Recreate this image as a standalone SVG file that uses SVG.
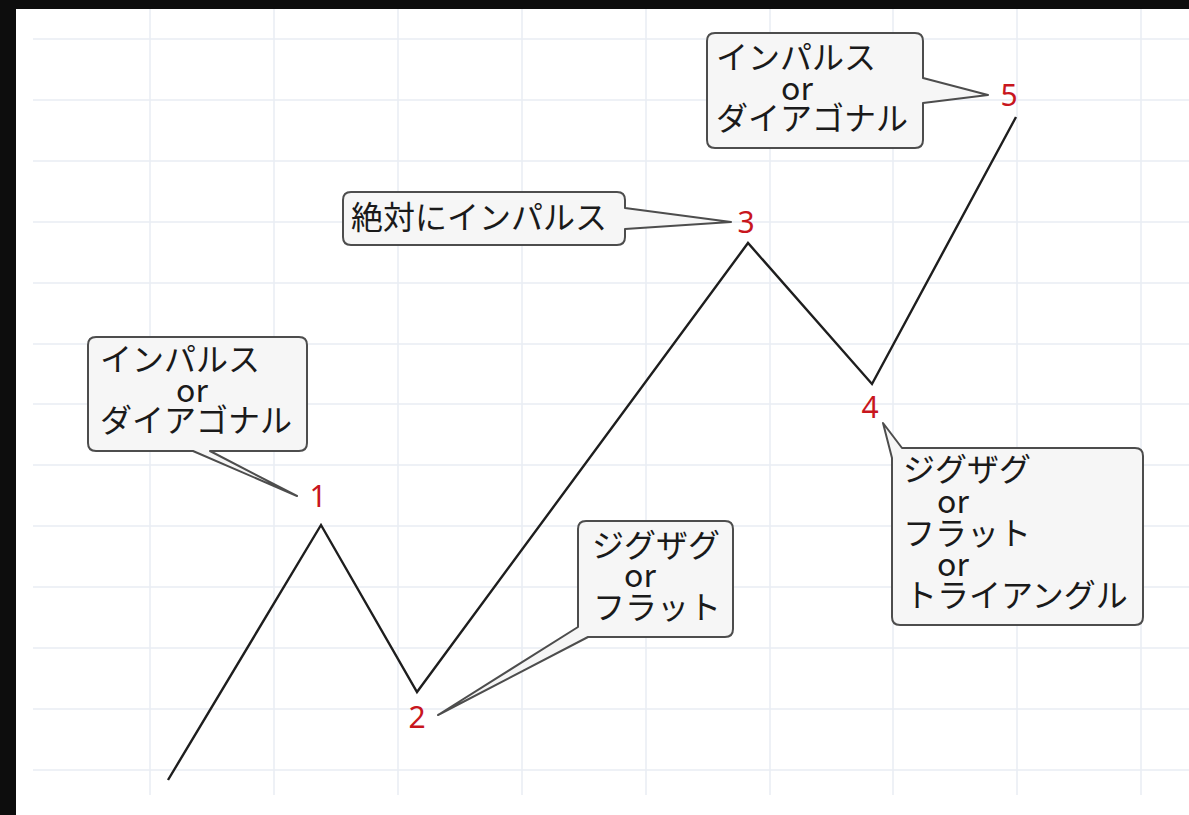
<svg xmlns="http://www.w3.org/2000/svg" width="1189" height="815" viewBox="0 0 1189 815">
<style>
.grid line{stroke:#e9edf3;stroke-width:1.5}
.wave{fill:none;stroke:#1e1e1e;stroke-width:2.4;stroke-linejoin:miter}
.callout{fill:#f6f6f6;stroke:#4d4d4d;stroke-width:2;stroke-linejoin:round}
.jp{font-family:"Noto Sans CJK JP","Noto Sans",sans-serif;font-size:32px;fill:#1a1a1a}
.num{font-family:"Noto Sans","Noto Sans CJK JP",sans-serif;font-size:30px;fill:#c8161d;text-anchor:middle}
</style>
<rect x="0" y="0" width="1189" height="815" fill="#0d0d0d"/>
<rect x="16" y="9" width="1173" height="806" fill="#ffffff"/>
<g class="grid">
<line x1="150" y1="9" x2="150" y2="795"/>
<line x1="274" y1="9" x2="274" y2="795"/>
<line x1="398" y1="9" x2="398" y2="795"/>
<line x1="522" y1="9" x2="522" y2="795"/>
<line x1="646" y1="9" x2="646" y2="795"/>
<line x1="770" y1="9" x2="770" y2="795"/>
<line x1="893" y1="9" x2="893" y2="795"/>
<line x1="1017" y1="9" x2="1017" y2="795"/>
<line x1="1141" y1="9" x2="1141" y2="795"/>
<line x1="33" y1="39" x2="1189" y2="39"/>
<line x1="33" y1="100" x2="1189" y2="100"/>
<line x1="33" y1="161" x2="1189" y2="161"/>
<line x1="33" y1="222" x2="1189" y2="222"/>
<line x1="33" y1="283" x2="1189" y2="283"/>
<line x1="33" y1="344" x2="1189" y2="344"/>
<line x1="33" y1="404" x2="1189" y2="404"/>
<line x1="33" y1="465" x2="1189" y2="465"/>
<line x1="33" y1="526" x2="1189" y2="526"/>
<line x1="33" y1="587" x2="1189" y2="587"/>
<line x1="33" y1="648" x2="1189" y2="648"/>
<line x1="33" y1="709" x2="1189" y2="709"/>
<line x1="33" y1="770" x2="1189" y2="770"/>
</g>
<g id="connectors">
<polyline class="wave" points="168,780 321,525 417,692 748,243 872,384 1016,117"/>
</g>
<g id="wave1">
<path class="callout" d="M96,337 H299 Q307,337 307,345 V443 Q307,451 299,451 H210 L297,496 L193,451 H96 Q88,451 88,443 V345 Q88,337 96,337 Z"/>
<text class="jp" x="100" y="371">インパルス</text>
<text class="jp" x="176" y="402">or</text>
<text class="jp" x="100" y="432">ダイアゴナル</text>
<text class="num" x="318" y="507">1</text>
</g>
<g id="wave2">
<path class="callout" d="M586,521 H725 Q733,521 733,529 V629 Q733,637 725,637 H588 L438,715 L578,627 V529 Q578,521 586,521 Z"/>
<text class="jp" x="592" y="557">ジグザグ</text>
<text class="jp" x="624" y="587">or</text>
<text class="jp" x="593" y="619">フラット</text>
<text class="num" x="417" y="728">2</text>
</g>
<g id="wave3">
<path class="callout" d="M351,192 H617 Q625,192 625,200 V208 L731,222 L625,229 V237 Q625,245 617,245 H351 Q343,245 343,237 V200 Q343,192 351,192 Z"/>
<text class="jp" x="351" y="229">絶対にインパルス</text>
<text class="num" x="746" y="233">3</text>
</g>
<g id="wave4">
<path class="callout" d="M902,448 H1135 Q1143,448 1143,456 V617 Q1143,625 1135,625 H900 Q892,625 892,617 V458 L883,423 Z"/>
<text class="jp" x="903" y="481">ジグザグ</text>
<text class="jp" x="937" y="513">or</text>
<text class="jp" x="903" y="545">フラット</text>
<text class="jp" x="937" y="576">or</text>
<text class="jp" x="905" y="607">トライアングル</text>
<text class="num" x="870" y="418">4</text>
</g>
<g id="wave5">
<path class="callout" d="M715,33 H915 Q923,33 923,41 V78 L988,95 L923,103 V140 Q923,148 915,148 H715 Q707,148 707,140 V41 Q707,33 715,33 Z"/>
<text class="jp" x="716" y="69">インパルス</text>
<text class="jp" x="781" y="100">or</text>
<text class="jp" x="716" y="130">ダイアゴナル</text>
<text class="num" x="1009" y="106">5</text>
</g>
</svg>
